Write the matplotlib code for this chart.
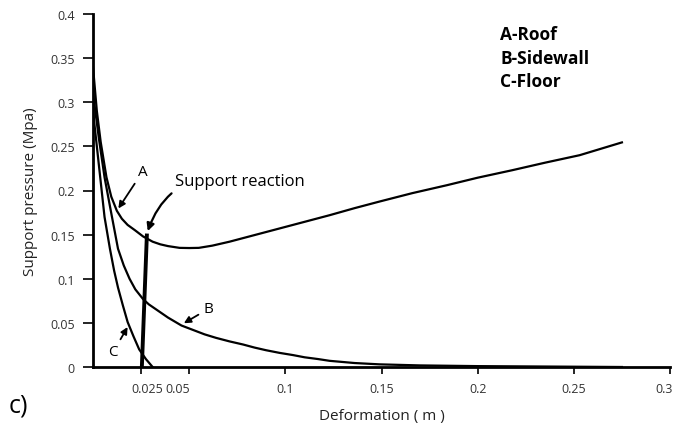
import matplotlib
matplotlib.use("Agg")
import matplotlib.pyplot as plt
import matplotlib.transforms as mtransforms

plt.rcParams['font.family'] = ['Open Sans', 'DejaVu Sans']

# curve A - roof
roof_x = [0, 0.002, 0.004, 0.007, 0.0095, 0.0124, 0.015, 0.018, 0.0218, 0.026,
          0.031, 0.035, 0.039, 0.045, 0.05, 0.055, 0.062, 0.071, 0.084, 0.097,
          0.11, 0.123, 0.136, 0.149, 0.166, 0.184, 0.2, 0.218, 0.235, 0.253, 0.275]
roof_y = [0.34, 0.29, 0.255, 0.215, 0.193, 0.177, 0.168, 0.161, 0.155, 0.148,
          0.142, 0.139, 0.137, 0.135, 0.1348, 0.135, 0.1375, 0.142, 0.1495, 0.157,
          0.1645, 0.172, 0.18, 0.1875, 0.197, 0.206, 0.2145, 0.223, 0.2315, 0.240, 0.2545]

# curve B - sidewall
wall_x = [0, 0.003, 0.006, 0.009, 0.013, 0.016, 0.019, 0.022, 0.026, 0.029,
          0.033, 0.039, 0.046, 0.052, 0.058, 0.064, 0.071, 0.078, 0.084, 0.09,
          0.097, 0.104, 0.11, 0.117, 0.123, 0.136, 0.149, 0.17, 0.2, 0.275]
wall_y = [0.31, 0.26, 0.215, 0.18, 0.134, 0.115, 0.10, 0.088, 0.077, 0.071,
          0.065, 0.056, 0.047, 0.042, 0.037, 0.033, 0.029, 0.0255, 0.022, 0.019,
          0.016, 0.0135, 0.011, 0.009, 0.007, 0.0045, 0.003, 0.0018, 0.001, 0.0]

# curve C - floor
floor_x = [0, 0.003, 0.006, 0.0088, 0.011, 0.013, 0.0155, 0.018, 0.021, 0.024, 0.0275, 0.031]
floor_y = [0.29, 0.23, 0.17, 0.134, 0.109, 0.09, 0.07, 0.051, 0.035, 0.020, 0.009, 0.0]

# support reaction line
react_x = [0.0254, 0.028]
react_y = [0.0, 0.149]

xticks = [0.025, 0.05, 0.1, 0.15, 0.2, 0.25, 0.3]
xlabels = ['0.025', '0.05', '0.1', '0.15', '0.2', '0.25', '0.3']
yticks = [0, 0.05, 0.1, 0.15, 0.2, 0.25, 0.3, 0.35, 0.4]
ylabels = ['0', '0.05', '0.1', '0.15', '0.2', '0.25', '0.3', '0.35', '0.4']

fig = plt.figure(figsize=(6.78, 4.31), dpi=100)
ax = fig.add_axes([93 / 678, 1 - 368 / 431, (670 - 93) / 678, (368 - 15) / 431])

ax.plot(roof_x, roof_y, color='black', lw=1.6, solid_joinstyle='round')
ax.plot(wall_x, wall_y, color='black', lw=1.6, solid_joinstyle='round')
ax.plot(floor_x, floor_y, color='black', lw=1.6, solid_joinstyle='round')
ax.plot(react_x, react_y, color='black', lw=2.8)

ax.set_xlim(0, 0.3)
ax.set_ylim(0, 0.4)
ax.spines['top'].set_visible(False)
ax.spines['right'].set_visible(False)
ax.spines['left'].set_linewidth(2)
ax.spines['bottom'].set_linewidth(2)

ax.set_xticks(xticks)
ax.set_xticklabels(xlabels, fontsize=9, color='#333333')
ax.set_yticks(yticks)
ax.set_yticklabels(ylabels, fontsize=9, color='#333333')
ax.tick_params(axis='y', direction='out', length=7, width=1.2, pad=6)
ax.tick_params(axis='x', direction='out', length=5, width=1.2, pad=6)

# nudge the crowded first two x labels and the last one
labs = ax.get_xticklabels()
shifts = {0: 6, 1: -11, 6: -6}
for i, dx in shifts.items():
    labs[i].set_transform(labs[i].get_transform() + mtransforms.ScaledTranslation(dx / 100, 0, fig.dpi_scale_trans))

ax.set_xlabel('Deformation ( m )', fontsize=11, color='#222222', labelpad=9)
ax.set_ylabel('Support pressure (Mpa)', fontsize=11, color='#222222', labelpad=9)

arrow = dict(arrowstyle='-|>', color='black', lw=1.3, mutation_scale=10)
ax.annotate('A', xy=(0.0124, 0.177), xytext=(0.0235, 0.222), fontsize=11,
            va='center', ha='left', arrowprops=arrow)
ax.annotate('Support reaction', xy=(0.028, 0.151), xytext=(0.0425, 0.211),
            fontsize=12, va='center', ha='left',
            arrowprops=dict(arrowstyle='-|>', color='black', lw=1.6,
                            mutation_scale=11, connectionstyle='arc3,rad=0.45'))
ax.annotate('B', xy=(0.046, 0.048), xytext=(0.0575, 0.066), fontsize=11,
            va='center', ha='left', arrowprops=arrow)
ax.annotate('C', xy=(0.0187, 0.048), xytext=(0.008, 0.017), fontsize=11,
            va='center', ha='left', arrowprops=arrow)

for i, s in enumerate(['A-Roof', 'B-Sidewall', 'C-Floor']):
    fig.text(500 / 678, 1 - (35 + 23.5 * i) / 431, s, fontsize=12.5,
             fontweight='bold', va='center', ha='left')

fig.text(9 / 678, 1 - 406 / 431, 'c)', fontsize=18, va='center', ha='left')

fig.savefig('out.png', dpi=100)
